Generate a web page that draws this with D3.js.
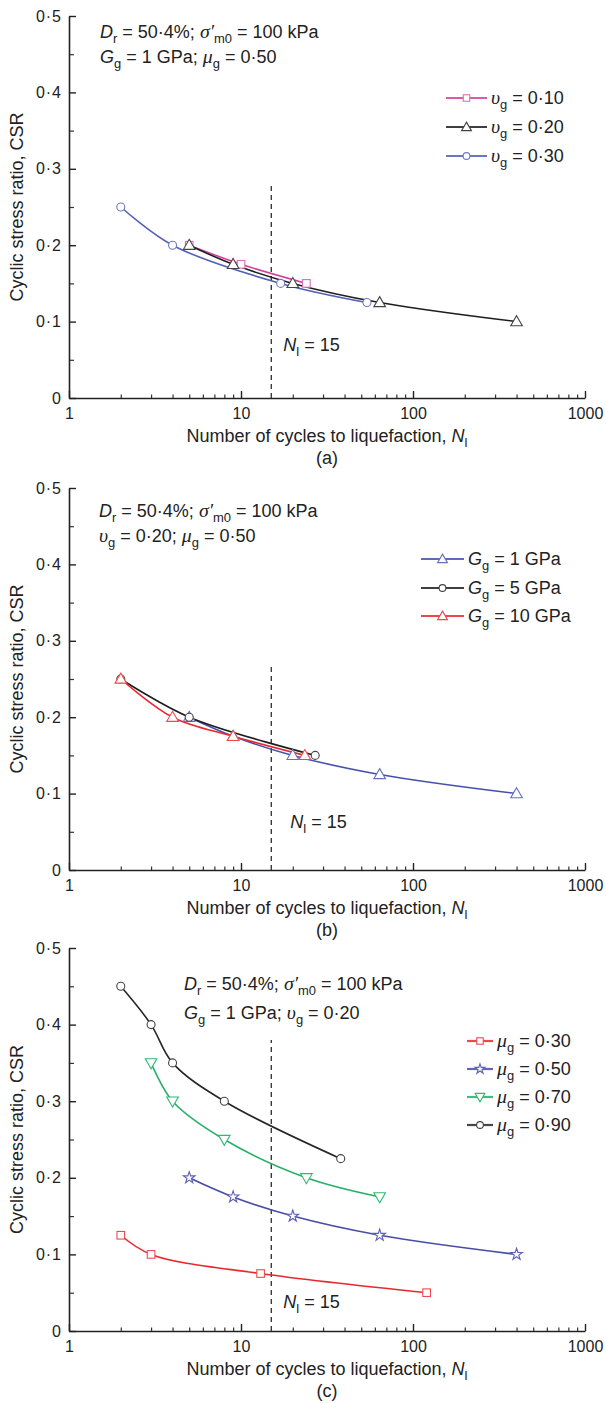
<!DOCTYPE html>
<html><head><meta charset="utf-8">
<script src="https://cdn.jsdelivr.net/npm/d3@7"></script>
<style>
body{margin:0;background:#fff;}
svg{display:block;}
text{font-family:"Liberation Sans",Arial,sans-serif;fill:#222;}
</style></head>
<body><svg id="chart" width="606" height="1403"></svg>
<script>
// ---------- data ----------
const xTickValues = [1, 10, 100, 1000];
const xTickLabels = ["1", "10", "100", "1000"];
const yTickValues = [0, 0.1, 0.2, 0.3, 0.4, 0.5];
const yTickLabels = ["0", "0·1", "0·2", "0·3", "0·4", "0·5"];
const panelCaptions = ["(a)", "(b)", "(c)"];
const criticalN = 15;

// panel (a): Poisson ratio of grains
const aNames = ["0·10", "0·20", "0·30"];
const a010N = [5, 10, 24];            const a010CSR = [0.2, 0.175, 0.15];
const a020N = [5, 9, 20, 64, 400];    const a020CSR = [0.2, 0.175, 0.15, 0.125, 0.1];
const a030N = [2, 4, 17, 54];         const a030CSR = [0.25, 0.2, 0.15, 0.125];

// panel (b): shear modulus of grains
const bNames = ["1 GPa", "5 GPa", "10 GPa"];
const b1N = [5, 9, 20, 64, 400];      const b1CSR = [0.2, 0.175, 0.15, 0.125, 0.1];
const b5N = [2, 5, 27];               const b5CSR = [0.25, 0.2, 0.15];
const b10N = [2, 4, 9, 23.5];         const b10CSR = [0.25, 0.2, 0.175, 0.15];

// panel (c): friction coefficient of grains
const cNames = ["0·30", "0·50", "0·70", "0·90"];
const c030N = [2, 3, 13, 120];        const c030CSR = [0.125, 0.1, 0.075, 0.05];
const c050N = [5, 9, 20, 64, 400];    const c050CSR = [0.2, 0.175, 0.15, 0.125, 0.1];
const c070N = [3, 4, 8, 24, 64];      const c070CSR = [0.35, 0.3, 0.25, 0.2, 0.175];
const c090N = [2, 3, 4, 8, 38];       const c090CSR = [0.45, 0.4, 0.35, 0.3, 0.225];

// ---------- drawing ----------
const svg = d3.select("#chart");
const X0 = 69, X1 = 585;
const FS = 18;
const zip = (ns, cs) => ns.map((n, i) => ({n, c: cs[i]}));
const greek = '"Liberation Serif","DejaVu Serif",serif';

// rich text helper: parts = [[text, kind]], kind: n normal, i italic, g greek italic, s subscript
function rich(g, x, y, parts, size, anchor) {
  const t = g.append("text").attr("x", x).attr("y", y)
    .attr("font-size", size).attr("text-anchor", anchor || "start");
  let sub = false;
  parts.forEach(([txt, k]) => {
    const ts = t.append("tspan").text(txt);
    if (k === "i") ts.attr("font-style", "italic");
    if (k === "g") ts.attr("font-style", "italic").attr("font-family", greek).attr("font-size", size * 1.1);
    if (k === "s") {
      ts.attr("font-size", size * 0.72);
      if (!sub) ts.attr("dy", size * 0.3);
      sub = true;
    } else if (sub) {
      ts.attr("dy", -size * 0.3);
      sub = false;
    }
  });
  return t;
}

function marker(g, shape, x, y, color, size) {
  const s = size || 1;
  const common = el => el.attr("fill", "#fff").attr("stroke", color).attr("stroke-width", 1.1);
  if (shape === "circle") {
    common(g.append("circle").attr("cx", x).attr("cy", y).attr("r", 4 * s));
  } else if (shape === "square") {
    const h = 3.8 * s;
    common(g.append("rect").attr("x", x - h).attr("y", y - h).attr("width", 2 * h).attr("height", 2 * h));
  } else if (shape === "triangle" || shape === "tridown") {
    common(g.append("path").attr("d", d3.symbol().type(d3.symbolTriangle).size(58 * s * s)())
      .attr("transform", `translate(${x},${y + (shape === "triangle" ? 0.8 : -0.8)}) rotate(${shape === "tridown" ? 180 : 0})`));
  } else if (shape === "star") {
    common(g.append("path").attr("d", d3.symbol().type(d3.symbolStar).size(42 * s * s)())
      .attr("transform", `translate(${x},${y})`));
  }
}

function drawPanel(p) {
  const g = svg.append("g");
  const x = d3.scaleLog().domain([1, 1000]).range([X0, X1]);
  const y = d3.scaleLinear().domain([0, 0.5]).range([p.bottom, p.top]);

  // minor ticks
  const xMinor = [];
  [1, 10, 100].forEach(d => { for (let k = 2; k <= 9; k++) xMinor.push(d * k); });
  g.append("g").attr("transform", `translate(0,${p.bottom})`)
    .call(d3.axisBottom(x).tickValues(xMinor).tickSize(-3.5).tickFormat(""))
    .call(a => a.select(".domain").remove())
    .selectAll("line").attr("stroke", "#333").attr("stroke-width", 1.2);
  g.append("g").attr("transform", `translate(${X0},0)`)
    .call(d3.axisLeft(y).tickValues([0.05, 0.15, 0.25, 0.35, 0.45]).tickSize(-5).tickFormat(""))
    .call(a => a.select(".domain").remove())
    .selectAll("line").attr("stroke", "#333").attr("stroke-width", 1.2);

  // major axes
  const xa = g.append("g").attr("transform", `translate(0,${p.bottom})`)
    .call(d3.axisBottom(x).tickValues(xTickValues).tickSize(-7).tickSizeOuter(0).tickPadding(10)
      .tickFormat((d, i) => xTickLabels[i]));
  const ya = g.append("g").attr("transform", `translate(${X0},0)`)
    .call(d3.axisLeft(y).tickValues(yTickValues).tickSize(-7).tickSizeOuter(0).tickPadding(7)
      .tickFormat((d, i) => yTickLabels[i]));
  [xa, ya].forEach(a => {
    a.select(".domain").attr("stroke", "#222").attr("stroke-width", 1.6);
    a.selectAll(".tick line").attr("stroke", "#222").attr("stroke-width", 1.4);
    a.selectAll(".tick text").attr("font-size", 16).attr("fill", "#222")
      .attr("font-family", '"Liberation Sans",Arial,sans-serif');
  });
  ya.selectAll(".tick text").attr("letter-spacing", 1);

  // critical line
  g.append("line").attr("x1", x(criticalN)).attr("x2", x(criticalN))
    .attr("y1", y(0)).attr("y2", y(p.dashTop))
    .attr("stroke", "#3a3a3a").attr("stroke-width", 1.4).attr("stroke-dasharray", "5,4");
  rich(g, x(criticalN) + p.nlDx, y(p.nlY), [["N", "i"], ["l", "s"], [" = 15", "n"]], FS);

  // series
  const line = d3.line().x(d => x(d.n)).y(d => y(d.c)).curve(d3.curveCatmullRom.alpha(0.5));
  p.series.forEach(s => {
    g.append("path").datum(s.data).attr("d", line)
      .attr("fill", "none").attr("stroke", s.line).attr("stroke-width", 1.6);
  });
  p.series.forEach(s => {
    s.data.forEach(d => marker(g, s.shape, x(d.n), y(d.c), s.mk));
  });

  // annotation
  p.annot.forEach((parts, i) => rich(g, p.annotX, p.annotY[i], parts, FS));

  // legend
  p.series.forEach((s, i) => {
    const ly = p.legY[i];
    g.append("line").attr("x1", p.legX0).attr("x2", p.legX1).attr("y1", ly).attr("y2", ly)
      .attr("stroke", s.line).attr("stroke-width", 2.2).attr("opacity", 0.85);
    marker(g, s.shape, (p.legX0 + p.legX1) / 2, ly, s.mk, 0.85);
    rich(g, p.legX1 + 4, ly + 6, s.label, FS);
  });

  // axis titles
  rich(g, (X0 + X1) / 2, p.bottom + 44,
    [["Number of cycles to liquefaction, ", "n"], ["N", "i"], ["l", "s"]], FS, "middle");
  g.append("text").attr("x", (X0 + X1) / 2).attr("y", p.bottom + 66)
    .attr("text-anchor", "middle").attr("font-size", FS).text(p.caption);
  g.append("text").attr("transform", `translate(23,${(p.top + p.bottom) / 2}) rotate(-90)`)
    .attr("text-anchor", "middle").attr("font-size", FS).text("Cyclic stress ratio, CSR");
}

const annDr = [["D", "i"], ["r", "s"], [" = 50·4%; ", "n"], ["σ′", "g"], ["m0", "s"], [" = 100 kPa", "n"]];
const labV = v => [["υ", "g"], ["g", "s"], [" = " + v, "n"]];
const labG = v => [["G", "i"], ["g", "s"], [" = " + v, "n"]];
const labM = v => [["μ", "g"], ["g", "s"], [" = " + v, "n"]];

drawPanel({
  top: 16, bottom: 398, caption: panelCaptions[0], dashTop: 0.282, nlY: 0.062, nlDx: 12,
  annotX: 100, annotY: [38, 63],
  annot: [annDr, [["G", "i"], ["g", "s"], [" = 1 GPa; ", "n"], ["μ", "g"], ["g", "s"], [" = 0·50", "n"]]],
  legX0: 446, legX1: 487, legY: [98, 127, 156],
  series: [
    {label: labV(aNames[0]), data: zip(a010N, a010CSR), line: "#d13f9c", mk: "#de6db6", shape: "square"},
    {label: labV(aNames[1]), data: zip(a020N, a020CSR), line: "#1e1e1e", mk: "#444", shape: "triangle"},
    {label: labV(aNames[2]), data: zip(a030N, a030CSR), line: "#5460b6", mk: "#6f78c4", shape: "circle"}
  ]
});

drawPanel({
  top: 488, bottom: 870, caption: panelCaptions[1], dashTop: 0.266, nlY: 0.055, nlDx: 19,
  annotX: 99, annotY: [517, 542],
  annot: [annDr, [["υ", "g"], ["g", "s"], [" = 0·20; ", "n"], ["μ", "g"], ["g", "s"], [" = 0·50", "n"]]],
  legX0: 421, legX1: 464, legY: [559, 588, 616],
  series: [
    {label: labG(bNames[0]), data: zip(b1N, b1CSR), line: "#4650ad", mk: "#6670c0", shape: "triangle"},
    {label: labG(bNames[1]), data: zip(b5N, b5CSR), line: "#1e1e1e", mk: "#444", shape: "circle"},
    {label: labG(bNames[2]), data: zip(b10N, b10CSR), line: "#e8282f", mk: "#ef4a50", shape: "triangle"}
  ]
});

drawPanel({
  top: 948, bottom: 1331, caption: panelCaptions[2], dashTop: 0.38, nlY: 0.03, nlDx: 12,
  annotX: 184, annotY: [990, 1019],
  annot: [annDr, [["G", "i"], ["g", "s"], [" = 1 GPa; ", "n"], ["υ", "g"], ["g", "s"], [" = 0·20", "n"]]],
  legX0: 467, legX1: 493, legY: [1041, 1069, 1097, 1125],
  series: [
    {label: labM(cNames[0]), data: zip(c030N, c030CSR), line: "#e8282f", mk: "#ef4a50", shape: "square"},
    {label: labM(cNames[1]), data: zip(c050N, c050CSR), line: "#4a4ca8", mk: "#5d60b8", shape: "star"},
    {label: labM(cNames[2]), data: zip(c070N, c070CSR), line: "#27b068", mk: "#35b873", shape: "tridown"},
    {label: labM(cNames[3]), data: zip(c090N, c090CSR), line: "#262626", mk: "#444", shape: "circle"}
  ]
});
</script></body></html>
